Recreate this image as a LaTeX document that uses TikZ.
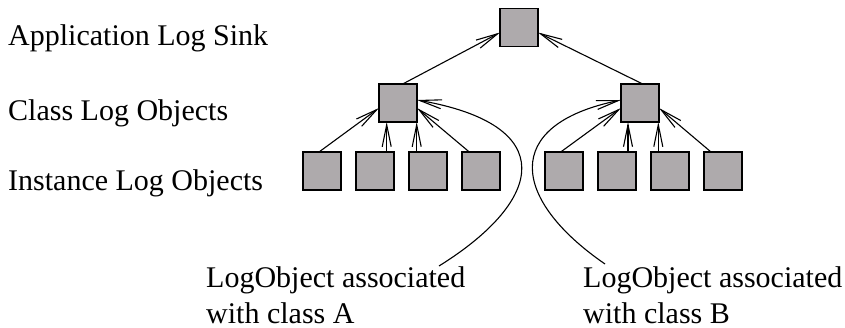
\documentclass[tikz,border=0pt]{standalone}
\usepackage{fontspec}
\setmainfont{Liberation Serif}
\usetikzlibrary{arrows.meta}
\definecolor{boxgray}{RGB}{174,170,172}
\tikzset{
  logbox/.style={draw=black, fill=boxgray, line width=1.4pt, minimum width=38pt,
    minimum height=38pt, inner sep=0pt, outer sep=0pt},
  lbl/.style={inner sep=0pt, anchor=base west, font=\fontsize{30}{36}\selectfont, align=left},
  link/.style={line width=1.1pt, -{Straight Barb[length=22pt,width=9pt,line width=1.1pt]}}
}
\begin{document}
\begin{tikzpicture}[x=1pt, y=-1pt]
\useasboundingbox (0,0) rectangle (845,328);

% level captions
\node[lbl] (capSink) at (8,46) {Application Log Sink};
\node[lbl] (capClass) at (8,120.5) {Class Log Objects};
\node[lbl] (capInst) at (8,190.5) {Instance Log Objects};

% sink and class boxes
\node[logbox] (sink) at (519,27.5) {};
\node[logbox] (cA) at (398,103) {};
\node[logbox] (cB) at (640,103) {};

% instance boxes
\foreach \n/\x in {1/322,2/375,3/428,4/481,5/564,6/617,7/670,8/723}
  \node[logbox] (i\n) at (\x,171) {};

% class -> sink
\draw[link] ([xshift=4.7pt]cA.north) -- ([yshift=-5pt]sink.west);
\draw[link] ([xshift=2.7pt]cB.north) -- ([yshift=-5pt]sink.east);

% instances -> class A
\draw[link] ([xshift=-3pt]i1.north) -- ([yshift=-5pt]cA.west);
\draw[link] ([xshift=11.7pt]i2.north) -- ([xshift=11.7pt]i2.north |- cA.south);
\draw[link] ([xshift=-11.3pt]i3.north) -- ([xshift=-11.3pt]i3.north |- cA.south);
\draw[link] ([xshift=-11.7pt]i4.north) -- ([yshift=-5pt]cA.east);

% instances -> class B
\draw[link] ([xshift=-3.3pt]i5.north) -- ([yshift=-5pt]cB.west);
\draw[link] ([xshift=11pt]i6.north) -- ([xshift=11pt]i6.north |- cB.south);
\draw[link] ([xshift=-11.7pt]i7.north) -- ([xshift=-11.7pt]i7.north |- cB.south);
\draw[link] ([xshift=-12pt]i8.north) -- ([yshift=-5pt]cB.east);

% explanatory labels (base anchor sits on the last line)
\node[lbl] (labA) at (206,323.5) {LogObject associated\\with class A};
\node[lbl] (labB) at (583,323.5) {LogObject associated\\with class B};

\coordinate (tailA) at (439,266);
\coordinate (tailB) at (605,264);
\draw[link] (tailA) .. controls (545,200) and (560,125) .. ([yshift=3pt]cA.east);
\draw[link] (tailB) .. controls (512,200) and (500,125) .. ([yshift=3pt]cB.west);
\end{tikzpicture}
\end{document}
